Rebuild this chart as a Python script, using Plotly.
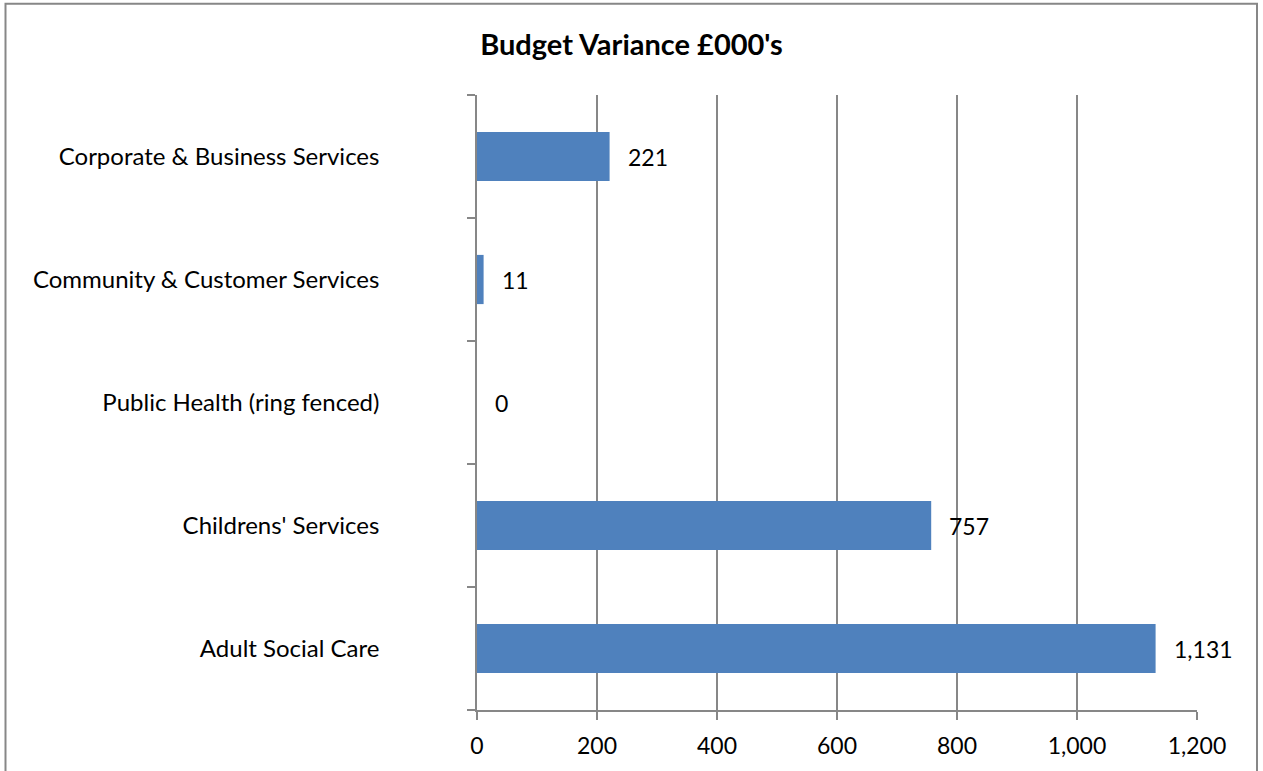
import plotly.graph_objects as go

categories = ["Adult Social Care", "Childrens' Services", "Public Health (ring fenced)",
              "Community & Customer Services", "Corporate & Business Services"]
values = [1131, 757, 0, 11, 221]
x_ticks = [0, 200, 400, 600, 800, 1000, 1200]
x_tick_labels = ["0", "200", "400", "600", "800", "1,000", "1,200"]
title_text = "Budget Variance £000's"

W, H = 1263, 771
L, R, T, B = 477, 1197, 95, 712
FONT = "Lato"
GRAY = "#878787"
FS = 24

fig = go.Figure()
fig.add_trace(go.Bar(
    y=categories, x=values, orientation="h",
    marker=dict(color="#4F81BD", line=dict(width=0)),
    hoverinfo="x+y",
))

for c, v in zip(categories, values):
    fig.add_annotation(x=v, y=c, text=f"{v:,}", showarrow=False, xanchor="left",
                       yanchor="middle", xshift=16, font=dict(family=FONT, size=FS - 1, color="black"))

pw, ph = R - L, B - T
def px(x):
    return (x - L) / pw
def py(y):
    return (B - y) / ph

fig.add_shape(type="rect", xref="paper", yref="paper",
              x0=px(5.5), x1=px(1257), y0=py(790), y1=py(3.5),
              line=dict(color=GRAY, width=2), fillcolor="rgba(0,0,0,0)", layer="above")

fig.update_layout(
    width=W, height=H,
    margin=dict(l=L, r=W - R, t=T, b=H - B, pad=0),
    paper_bgcolor="white", plot_bgcolor="white",
    bargap=0.6,
    showlegend=False,
    font=dict(family=FONT, size=FS, color="black"),
    title=dict(text=f"<b>{title_text}</b>", x=0.5, xref="container", xanchor="center",
               y=1 - 45 / H, yref="container", yanchor="middle",
               font=dict(family=FONT, size=29, color="black")),
    xaxis=dict(range=[0, 1200], tickvals=x_ticks, ticktext=x_tick_labels,
               showgrid=True, gridcolor=GRAY, gridwidth=1.5,
               showline=True, linecolor=GRAY, linewidth=1.5,
               ticks="outside", ticklen=8, tickcolor=GRAY, tickwidth=1.5,
               zeroline=False, fixedrange=True, ticklabelstandoff=7,
               tickfont=dict(family=FONT, size=FS - 1, color="black")),
    yaxis=dict(type="category", tickson="boundaries", ticks="outside", ticklen=8,
               tickcolor=GRAY, tickwidth=1.5, showline=True, linecolor=GRAY, linewidth=1.5,
               showgrid=False, zeroline=False, ticklabelstandoff=91,
               fixedrange=True,
               tickfont=dict(family=FONT, size=FS, color="black")),
)

fig.write_html("out.html", config={"displayModeBar": False},
               post_script="document.body.style.margin='0';")
